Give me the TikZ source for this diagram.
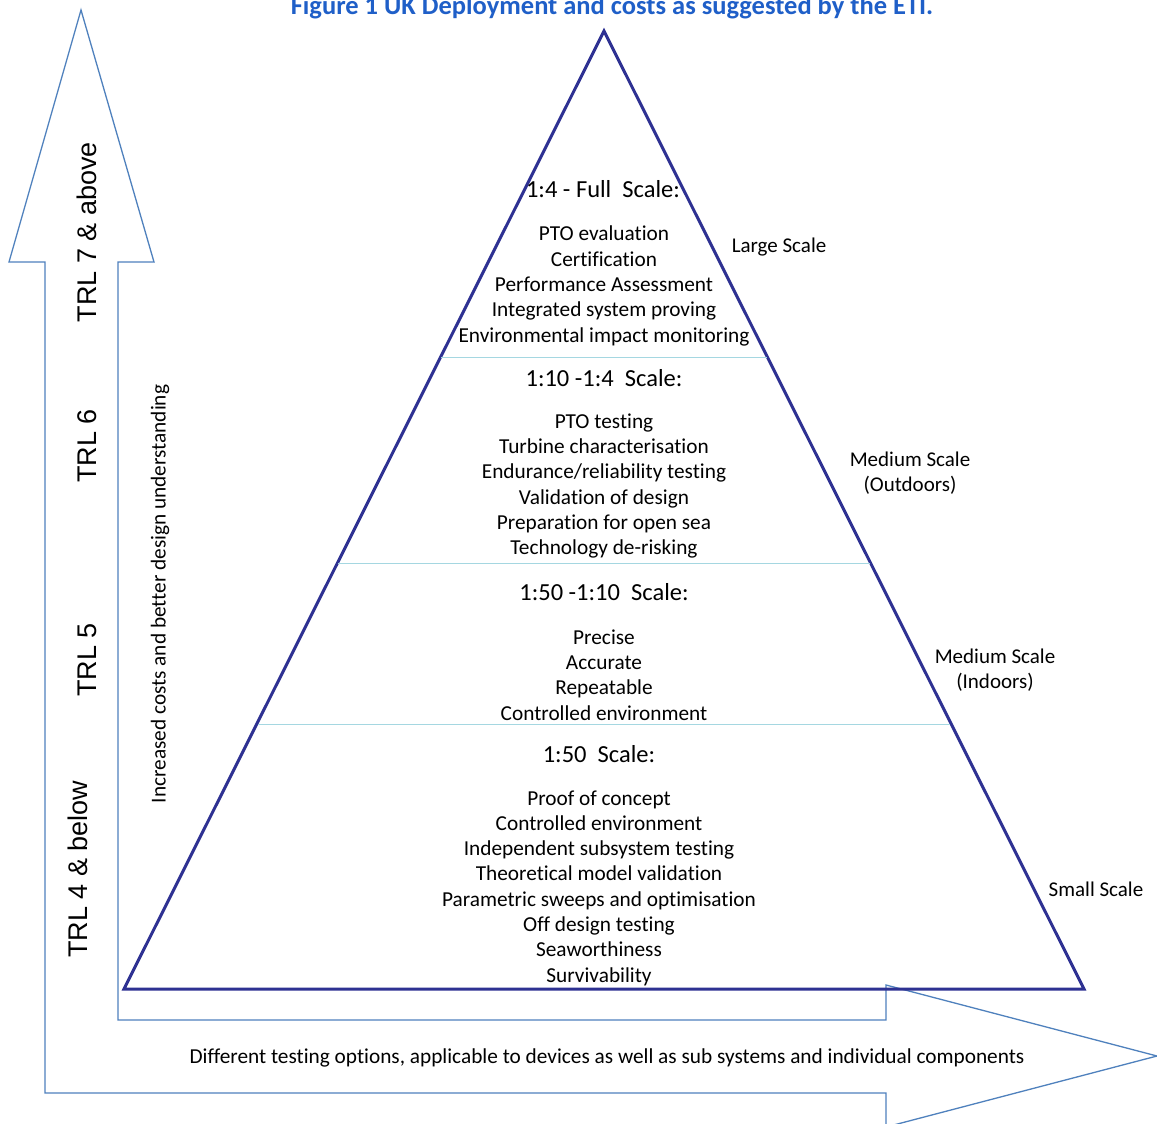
\documentclass[tikz,border=0pt]{standalone}
\usepackage{fontspec}
\setmainfont{Carlito}[Ligatures={NoCommon}]
\newfontfamily\arialf{Liberation Sans}
\definecolor{arrowblue}{RGB}{79,129,189}
\definecolor{trinavy}{RGB}{46,49,146}
\definecolor{divcyan}{RGB}{165,215,225}
\definecolor{titleblue}{RGB}{31,95,200}
\begin{document}
\begin{tikzpicture}[x=1pt,y=-1pt,
  bigarrow/.style={draw=arrowblue,line width=1.3pt,line join=miter},
  tri/.style={draw=trinavy,line width=3pt,line join=miter},
  divider/.style={draw=divcyan,line width=1pt},
  head/.style={inner sep=0pt,font=\fontsize{24.5}{29}\selectfont},
  list/.style={inner sep=0pt,align=center,font=\fontsize{21.3}{25.3}\selectfont},
  side/.style={inner sep=0pt,align=center,font=\fontsize{21}{25}\selectfont},
  trl/.style={inner sep=0pt,rotate=90,font=\arialf\fontsize{27}{32}\selectfont},
  ttl/.style={inner sep=0pt,text=titleblue,font=\bfseries\fontsize{26.5}{30}\selectfont}]
\clip (0,0) rectangle (1157,1124);
\fill[white] (0,0) rectangle (1157,1124);
% bent arrow
\draw[bigarrow] (81,10) -- (154,262) -- (118,262) -- (118,1020) -- (886,1020)
  -- (886,985) -- (1157,1056) -- (886,1127) -- (886,1093) -- (45,1093)
  -- (45,262) -- (9,262) -- cycle;
% pyramid
\draw[tri] (604,31) -- (1084,989) -- (124,989) -- cycle;
\draw[divider] (441,357) -- (767,357);
\draw[divider] (338,563) -- (870,563);
\draw[divider] (258,724) -- (950,724);
% title
\node[ttl,anchor=base] (title) at (612,15) {Figure 1 UK Deployment and costs as suggested by the ETI.};
% section 1
\node[head] (h1) at (603,189) {1:4 - Full\ \ Scale:};
\node[list] (l1) at (604,286) {PTO evaluation\\Certification\\Performance Assessment\\Integrated system proving\\Environmental impact monitoring};
% section 2
\node[head] (h2) at (604,378) {1:10 -1:4\ \ Scale:};
\node[list] (l2) at (604,486) {PTO testing\\Turbine characterisation\\Endurance/reliability testing\\Validation of design\\Preparation for open sea\\Technology de-risking};
% section 3
\node[head] (h3) at (604,592) {1:50 -1:10\ \ Scale:};
\node[list] (l3) at (604,675) {Precise\\Accurate\\Repeatable\\Controlled environment};
% section 4
\node[head] (h4) at (599,754) {1:50\ \ Scale:};
\node[list] (l4) at (599,888) {Proof of concept\\Controlled environment\\Independent subsystem testing\\Theoretical model validation\\Parametric sweeps and optimisation\\Off design testing\\Seaworthiness\\Survivability};
% side labels
\node[side] (s1) at (779,247) {Large Scale};
\node[side] (s2) at (910,473) {Medium Scale\\(Outdoors)};
\node[side] (s3) at (995,670) {Medium Scale\\(Indoors)};
\node[side] (s4) at (1096,889) {Small Scale};
% TRL labels
\node[trl] (t7) at (87,232) {TRL 7 \& above};
\node[trl] (t6) at (87,446) {TRL 6};
\node[trl] (t5) at (87,660) {TRL 5};
\node[trl] (t4) at (78,869) {TRL 4 \& below};
% rotated cost text
\node[inner sep=0pt,rotate=90,font=\fontsize{21.3}{25}\selectfont] (cost) at (160,594) {Increased costs and better design understanding};
% bottom text
\node[inner sep=0pt,font=\fontsize{21.3}{25}\selectfont] (bottom) at (607,1058) {Different testing options, applicable to devices as well as sub systems and individual components};
\end{tikzpicture}
\end{document}
